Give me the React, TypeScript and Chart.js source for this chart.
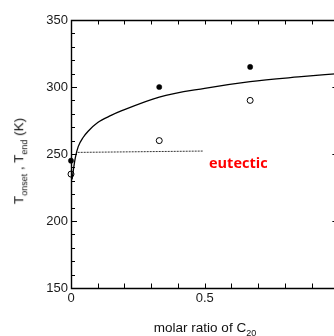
import React, { useEffect, useRef } from "react";
import { Chart, registerables } from "chart.js";

Chart.register(...registerables);

// ---- data ----
const xTickLabels = [0, 0.5, 1];
const yTickLabels = [150, 200, 250, 300, 350];

// smooth liquidus-like curve (hand-read points)
const fitX = [0.004, 0.011, 0.017, 0.027, 0.046, 0.064, 0.1, 0.15, 0.19, 0.33, 0.5, 0.67, 0.85, 1.0];
const fitY = [231, 241, 248, 255.5, 262.5, 267, 273.5, 278.8, 282.3, 292.5, 299, 304, 307.5, 310];

// eutectic dotted line
const eutecticX = [0.025, 0.495];
const eutecticY = [251.2, 252.2];

// measured points
const sampleX = [0, 0.33, 0.67];
const endY = [245, 300, 315]; // filled markers
const onsetY = [235, 260, 290]; // open markers

const CANVAS_W = 345;
const CANVAS_H = 336;
const PLOT_LEFT = 71;
const PLOT_TOP = 20;
const PLOT_RIGHT = 339;
const PLOT_BOTTOM = 288;

const zip = (xs: number[], ys: number[]) => xs.map((x, i) => ({ x, y: ys[i] }));

const framePlugin = {
  id: "frameTicks",
  afterDatasetsDraw(chart: any) {
    const { ctx, chartArea: a, scales } = chart;
    const xs = scales.x;
    const ys = scales.y;
    ctx.save();
    ctx.strokeStyle = "#000";
    ctx.lineWidth = 1.4;
    ctx.beginPath();
    ctx.rect(a.left + 0.5, a.top + 0.5, a.right - a.left, a.bottom - a.top);
    ctx.stroke();
    ctx.lineWidth = 1;
    ctx.beginPath();
    for (let i = 0; i <= 10; i++) {
      const px = Math.round(xs.getPixelForValue(i / 10)) + 0.5;
      const len = 4.5;
      ctx.moveTo(px, a.bottom);
      ctx.lineTo(px, a.bottom - len);
      ctx.moveTo(px, a.top);
      ctx.lineTo(px, a.top + len);
    }
    for (let v = 150; v <= 350; v += 10) {
      const py = Math.round(ys.getPixelForValue(v)) + 0.5;
      const len = v % 50 === 0 ? 6 : 4;
      ctx.moveTo(a.left, py);
      ctx.lineTo(a.left + len, py);
      ctx.moveTo(a.right, py);
      ctx.lineTo(a.right - len, py);
    }
    ctx.stroke();
    ctx.restore();
  },
};

function ChartCanvas() {
  const ref = useRef<HTMLCanvasElement | null>(null);
  useEffect(() => {
    if (!ref.current) return;
    const tickFont = { family: "'Liberation Sans', Arial, sans-serif", size: 13 };
    const chart = new Chart(ref.current, {
      type: "scatter",
      data: {
        datasets: [
          {
            label: "fit",
            data: zip(fitX, fitY),
            showLine: true,
            borderColor: "#000",
            borderWidth: 1.3,
            pointRadius: 0,
            cubicInterpolationMode: "monotone",
            clip: false,
          } as any,
          {
            label: "eutectic",
            data: zip(eutecticX, eutecticY),
            showLine: true,
            borderColor: "#333",
            borderWidth: 1,
            borderDash: [2, 1],
            pointRadius: 0,
          } as any,
          {
            label: "T_end",
            data: zip(sampleX, endY),
            pointRadius: 2.6,
            pointBackgroundColor: "#000",
            pointBorderColor: "#000",
            pointBorderWidth: 0.5,
            clip: false,
          } as any,
          {
            label: "T_onset",
            data: zip(sampleX, onsetY),
            pointRadius: 3,
            pointBackgroundColor: "#fff",
            pointBorderColor: "#000",
            pointBorderWidth: 1,
            clip: false,
          } as any,
        ],
      },
      options: {
        responsive: false,
        animation: false,
        devicePixelRatio: 1,
        layout: {
          autoPadding: false,
          padding: { left: 0, top: PLOT_TOP, right: CANVAS_W - PLOT_RIGHT, bottom: 0 },
        },
        plugins: { legend: { display: false }, tooltip: { enabled: false }, title: { display: false } },
        scales: {
          x: {
            type: "linear",
            min: 0,
            max: 1,
            grid: { display: false, drawTicks: false },
            border: { display: false },
            afterFit: (s: any) => {
              s.height = CANVAS_H - PLOT_BOTTOM;
            },
            afterBuildTicks: (s: any) => {
              s.ticks = xTickLabels.map((v) => ({ value: v }));
            },
            ticks: {
              font: tickFont,
              color: "#1a1a1a",
              padding: 3,
              maxRotation: 0,
              callback: (v: any) => String(v),
            },
          },
          y: {
            type: "linear",
            min: 150,
            max: 350,
            grid: { display: false, drawTicks: false },
            border: { display: false },
            afterFit: (s: any) => {
              s.width = PLOT_LEFT;
            },
            afterBuildTicks: (s: any) => {
              s.ticks = yTickLabels.map((v) => ({ value: v }));
            },
            ticks: {
              font: tickFont,
              color: "#1a1a1a",
              padding: 3,
              callback: (v: any) => String(v),
            },
          },
        },
      } as any,
      plugins: [framePlugin],
    });
    return () => chart.destroy();
  }, []);
  return (
    <canvas
      ref={ref}
      width={CANVAS_W}
      height={CANVAS_H}
      style={{ position: "absolute", left: 0, top: 0, width: CANVAS_W, height: CANVAS_H }}
    />
  );
}

export default function App() {
  const titleFont = "13.5px 'Liberation Sans', Arial, sans-serif";
  const sub: React.CSSProperties = { fontSize: 9, position: "relative", top: 4 };
  return (
    <div
      style={{
        position: "fixed",
        left: 0,
        top: 0,
        width: 334,
        height: 336,
        overflow: "hidden",
        background: "#fff",
      }}
    >
      <ChartCanvas />
      <div
        style={{
          position: "absolute",
          left: 18.6,
          top: 161,
          transform: "translate(-50%, -50%) rotate(-90deg)",
          whiteSpace: "nowrap",
          font: titleFont,
          lineHeight: 1,
          color: "#111",
        }}
      >
        T<span style={sub}>onset</span> , T<span style={sub}>end</span> (K)
      </div>
      <div
        style={{
          position: "absolute",
          left: 205,
          top: 320.6,
          transform: "translateX(-50%)",
          whiteSpace: "nowrap",
          font: titleFont,
          lineHeight: 1,
          color: "#111",
        }}
      >
        molar ratio of C<span style={sub}>20</span>
      </div>
      <div
        style={{
          position: "absolute",
          left: 209,
          top: 156,
          whiteSpace: "nowrap",
          font: "bold 14.5px 'Open Sans', sans-serif",
          lineHeight: 1,
          color: "#ff0000",
        }}
      >
        eutectic
      </div>
    </div>
  );
}
